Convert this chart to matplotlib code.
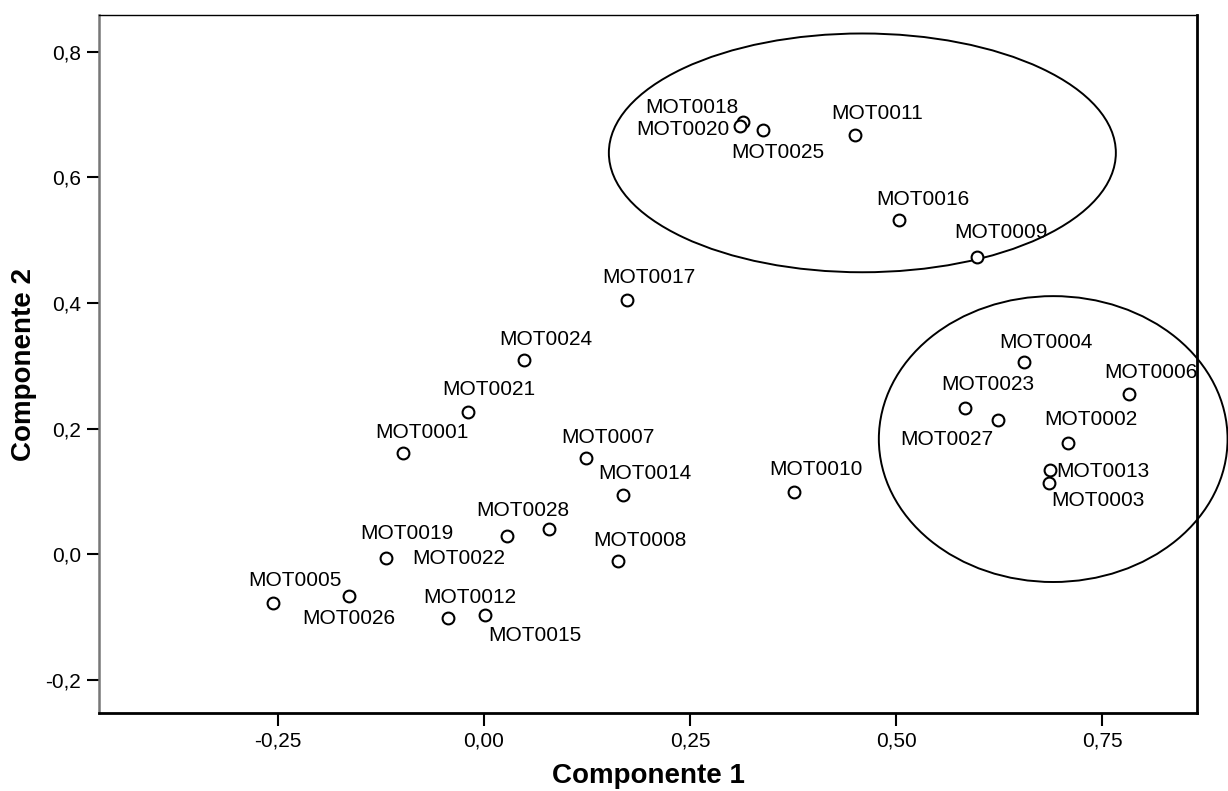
import matplotlib
matplotlib.use("Agg")
import matplotlib.pyplot as plt
from matplotlib.patches import Ellipse

plt.rcParams['font.family'] = ['Liberation Sans', 'DejaVu Sans']

# ---- data ----
names = ["MOT0001", "MOT0002", "MOT0003", "MOT0004", "MOT0005", "MOT0006", "MOT0007",
         "MOT0008", "MOT0009", "MOT0010", "MOT0011", "MOT0012", "MOT0013", "MOT0014",
         "MOT0015", "MOT0016", "MOT0017", "MOT0018", "MOT0019", "MOT0020", "MOT0021",
         "MOT0022", "MOT0023", "MOT0024", "MOT0025", "MOT0026", "MOT0027", "MOT0028"]
comp1 = [-0.098, 0.709, 0.685, 0.655, -0.256, 0.783, 0.124,
         0.163, 0.598, 0.376, 0.450, -0.044, 0.687, 0.169,
         0.001, 0.504, 0.174, 0.314, -0.119, 0.310, -0.019,
         0.028, 0.584, 0.048, 0.338, -0.164, 0.623, 0.079]
comp2 = [0.161, 0.178, 0.114, 0.306, -0.077, 0.256, 0.153,
         -0.011, 0.473, 0.100, 0.667, -0.102, 0.134, 0.095,
         -0.097, 0.532, 0.405, 0.688, -0.005, 0.681, 0.227,
         0.029, 0.233, 0.310, 0.676, -0.066, 0.214, 0.040]

xticks = [-0.25, 0.00, 0.25, 0.50, 0.75]
xticklabels = ["-0,25", "0,00", "0,25", "0,50", "0,75"]
yticks = [-0.2, 0.0, 0.2, 0.4, 0.6, 0.8]
yticklabels = ["-0,2", "0,0", "0,2", "0,4", "0,6", "0,8"]

# cluster ellipses: (center x, center y, width, height)
clusters = [(0.459, 0.639, 0.615, 0.380),
            (0.6905, 0.1835, 0.423, 0.455)]

# label offsets (pixels) of label centre relative to point
label_offsets = {
    "MOT0001": (19, 23), "MOT0002": (22, 25), "MOT0003": (49, -16), "MOT0004": (22, 22),
    "MOT0005": (22, 24), "MOT0006": (21, 23), "MOT0007": (22, 23), "MOT0008": (22, 23),
    "MOT0009": (24, 27), "MOT0010": (22, 24), "MOT0011": (22, 24), "MOT0012": (22, 23),
    "MOT0013": (53, 1), "MOT0014": (22, 23), "MOT0015": (50, -18), "MOT0016": (23, 23),
    "MOT0017": (21, 24), "MOT0018": (-51, 17), "MOT0019": (21, 26), "MOT0020": (-57, -1),
    "MOT0021": (21, 24), "MOT0022": (-48, -20), "MOT0023": (22, 25), "MOT0024": (22, 22),
    "MOT0025": (15, -21), "MOT0026": (0, -21), "MOT0027": (-51, -18), "MOT0028": (-26, 21),
}

fig = plt.figure(figsize=(12.28, 7.91), dpi=100)
ax = fig.add_axes([0.0806, 0.0986, 0.8942, 0.8821])

ax.plot(comp1, comp2, linestyle='none', marker='o', markersize=8.5,
        markerfacecolor='white', markeredgecolor='black', markeredgewidth=1.5, zorder=3)

for n, x, y in zip(names, comp1, comp2):
    dx, dy = label_offsets[n]
    ax.annotate(n, (x, y), xytext=(dx, dy - 7.5), textcoords='offset pixels',
                ha='center', va='baseline', fontsize=15, color='black', zorder=4)

for cx, cy, w, h in clusters:
    ax.add_patch(Ellipse((cx, cy), w, h, fill=False, edgecolor='black',
                         linewidth=1.4, clip_on=False, zorder=2))

ax.set_xlim(-0.467, 0.865)
ax.set_ylim(-0.2525, 0.858)
ax.set_xticks(xticks)
ax.set_xticklabels(xticklabels)
ax.set_yticks(yticks)
ax.set_yticklabels(yticklabels)
ax.tick_params(direction='out', length=9, width=1.5, labelsize=15, pad=4, colors='black')

for side, lw, col in [('left', 1.8, '#777777'), ('top', 1.0, 'black'),
                      ('bottom', 2.0, 'black'), ('right', 2.0, 'black')]:
    ax.spines[side].set_linewidth(lw)
    ax.spines[side].set_color(col)

ax.set_xlabel("Componente 1", fontsize=20, fontweight='bold', labelpad=9)
ax.set_ylabel("Componente 2", fontsize=20, fontweight='bold', labelpad=6)

fig.savefig("out.png", dpi=100, facecolor='white')
